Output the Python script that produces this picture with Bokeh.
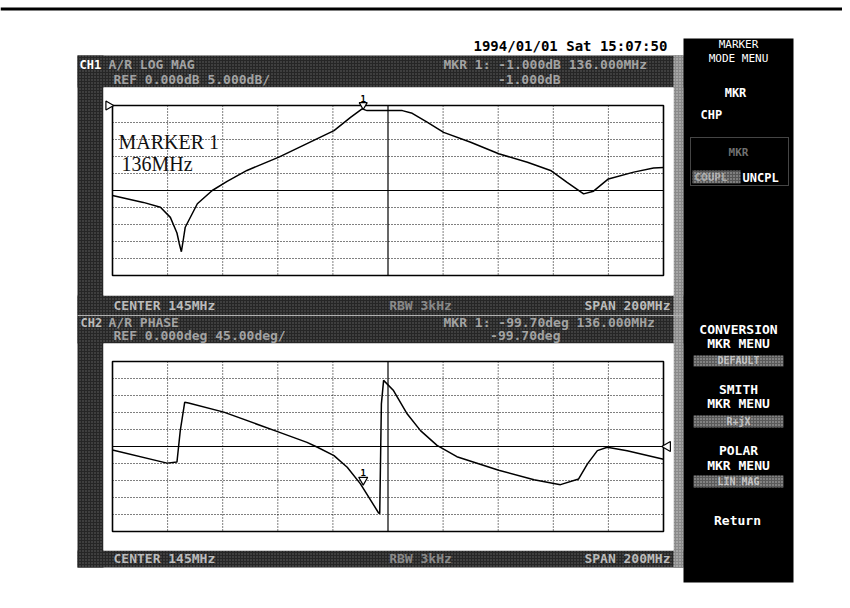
from bokeh.plotting import figure
from bokeh.models import Range1d
from bokeh.embed import file_html
from bokeh.resources import INLINE
from bokeh.core.properties import value

# ---------------- data ----------------
freq_ticks = [45, 65, 85, 105, 125, 145, 165, 185, 205, 225, 245]          # MHz, 20 MHz/div
ch1_ticks = [0, -5, -10, -15, -20, -25, -30, -35, -40, -45, -50]           # dB, 5 dB/div
ch2_ticks = [225, 180, 135, 90, 45, 0, -45, -90, -135, -180, -225]        # deg, 45 deg/div

ch1_freq = [45.0, 56.2, 62.4, 66.0, 68.4, 69.2, 70.0, 70.6, 71.4, 75.8, 81.2, 86.6,
            93.8, 105.4, 125.4, 131.4, 135.6, 137.4, 150.2, 153.8, 159.2, 165.2, 175.0,
            185.2, 195.6, 204.0, 210.0, 216.0, 219.6, 225.0, 234.2, 241.4, 245.0]
ch1_mag = [-26.5, -28.5, -29.9, -32.9, -37.5, -40.5, -43.0, -40.0, -35.8, -28.9, -25.0, -22.3,
           -19.1, -15.2, -7.4, -3.5, -1.0, -1.5, -1.5, -2.3, -4.9, -7.9, -10.8,
           -14.2, -16.7, -19.1, -22.6, -26.0, -25.2, -21.6, -19.6, -18.4, -18.2]

ch2_freq = [45.0, 64.8, 68.4, 69.6, 71.2, 72.6, 85.4, 105.4, 115.6, 119.4, 125.4, 130.2,
            135.0, 141.6, 142.0, 142.6, 143.4, 147.0, 152.0, 156.8, 162.8, 170.0, 185.2,
            198.0, 207.6, 214.2, 217.4, 221.0, 224.6, 231.8, 245.0]
ch2_phase = [-9, -44, -41, 42, 117, 115, 91, 38, 11, -2, -24, -55,
             -99, -176, -178, 113, 175, 148, 86, 42, 3, -27, -63,
             -88, -101, -86, -46, -11, -2, -11, -34]

marker_freq = 136.0
ch1_marker = -1.0
ch2_marker = -99.0

# ---------------- layout helpers ----------------
FX0, FX1, FY0, FY1 = 0, 842, 0, 600
BX0, BX1 = 112, 663
C1T, C1B = 105, 275
C2T, C2B = 361, 531


def xr(x0, x1, v0, v1):
    k = (v1 - v0) / (x1 - x0)
    return Range1d(start=v0 - (x0 - FX0) * k, end=v1 + (FX1 - x1) * k)


def yr(yt, yb, vt, vb):
    k = (vt - vb) / (yb - yt)
    return Range1d(start=vb - (FY1 - yb) * k, end=vt + (yt - FY0) * k)


p = figure(width=842, height=600, x_range=Range1d(FX0, FX1), y_range=Range1d(FY1, FY0),
           output_backend="svg", toolbar_location=None, min_border=0,
           x_axis_location=None, y_axis_location=None)
p.grid.visible = False
p.outline_line_color = None
p.background_fill_color = "white"
p.border_fill_color = "white"

p.extra_x_ranges = {"f": xr(BX0, BX1, freq_ticks[0], freq_ticks[-1])}
p.extra_y_ranges = {"mag": yr(C1T, C1B, ch1_ticks[0], ch1_ticks[-1]),
                    "ph": yr(C2T, C2B, ch2_ticks[0], ch2_ticks[-1])}

MONO = value("DejaVu Sans Mono")

# outer frame (top edge)
p.line([0, 842], [8.5, 8.5], line_color="black", line_width=3)

# ---------------- dark speckled bands ----------------
def band(l, r, t, b, fill="#262626", hatch="#c8c8c8", alpha=0.38):
    p.quad(left=[l], right=[r], top=[t], bottom=[b], fill_color=fill, line_color=None,
           hatch_pattern="dot", hatch_color=hatch, hatch_scale=3, hatch_weight=1,
           hatch_alpha=alpha)

band(77, 683, 55, 87)          # CH1 header
band(77, 683, 295, 343)        # CH1 footer + CH2 header
band(77, 683, 550, 567)        # CH2 footer
band(77, 103, 55, 567)         # left strip
band(673, 683, 55, 567, fill="#8a8a8a", hatch="#ffffff", alpha=0.6)  # right strip
p.line([77, 683], [315, 315], line_color="#b0b0b0", line_width=1)

# white plot area behind the boxes
p.quad(left=[103, 103], right=[673, 673], top=[87, 343], bottom=[295, 550],
       fill_color="white", line_color=None)

# right menu panel
p.quad(left=[683], right=[793], top=[38], bottom=[582], fill_color="black", line_color=None)

# ---------------- grids, boxes and traces ----------------
def screen(rng_name, tks, center):
    dotted_x = [f for f in freq_ticks[1:-1] if f != freq_ticks[5]]
    p.segment(x0=dotted_x, x1=dotted_x, y0=[tks[0]] * len(dotted_x), y1=[tks[-1]] * len(dotted_x),
              x_range_name="f", y_range_name=rng_name, line_color="black", line_width=1,
              line_dash="1 2")
    dotted_y = [v for v in tks[1:-1] if v != center]
    p.segment(x0=[freq_ticks[0]] * len(dotted_y), x1=[freq_ticks[-1]] * len(dotted_y),
              y0=dotted_y, y1=dotted_y, x_range_name="f", y_range_name=rng_name,
              line_color="black", line_width=1, line_dash="1 2")
    p.segment(x0=[freq_ticks[5], freq_ticks[0]], x1=[freq_ticks[5], freq_ticks[-1]],
              y0=[tks[0], center], y1=[tks[-1], center], x_range_name="f", y_range_name=rng_name,
              line_color="black", line_width=1.2)
    p.quad(left=[freq_ticks[0]], right=[freq_ticks[-1]], top=[tks[0]], bottom=[tks[-1]],
           x_range_name="f", y_range_name=rng_name, fill_color=None, line_color="black",
           line_width=1.6)

screen("mag", ch1_ticks, ch1_ticks[5])
screen("ph", ch2_ticks, ch2_ticks[5])

p.line(ch1_freq, ch1_mag, x_range_name="f", y_range_name="mag", line_color="black", line_width=1.5)
p.line(ch2_freq, ch2_phase, x_range_name="f", y_range_name="ph", line_color="black", line_width=1.5)

kx = 200.0 / (BX1 - BX0)
k1 = 50.0 / (C1B - C1T)
k2 = 450.0 / (C2B - C2T)

# reference position triangles
p.scatter([freq_ticks[0] - 4 * kx], [ch1_ticks[0]], x_range_name="f", y_range_name="mag",
          marker="triangle", angle=-1.5708, size=9, fill_color="white", line_color="black", line_width=1.2)
p.scatter([freq_ticks[-1] + 4 * kx], [ch2_ticks[5]], x_range_name="f", y_range_name="ph",
          marker="triangle", angle=1.5708, size=10, fill_color="white", line_color="black", line_width=1.2)

# markers
p.scatter([marker_freq], [ch1_marker + 4 * k1], x_range_name="f", y_range_name="mag",
          marker="inverted_triangle", size=8, fill_color="white", line_color="black", line_width=1.2)
p.text([marker_freq], [ch1_marker + 7 * k1], text=["1"], x_range_name="f", y_range_name="mag",
       text_font=MONO, text_font_style="bold", text_font_size="9px", text_align="center",
       text_baseline="bottom", text_color="black")
p.scatter([marker_freq], [ch2_marker + 4 * k2], x_range_name="f", y_range_name="ph",
          marker="inverted_triangle", size=9, fill_color="white", line_color="black", line_width=1.2)
p.text([marker_freq], [ch2_marker + 8 * k2], text=["1"], x_range_name="f", y_range_name="ph",
       text_font=MONO, text_font_style="bold", text_font_size="9px", text_align="center",
       text_baseline="bottom", text_color="black")

# annotation
p.text([118, 121], [141, 163], text=["MARKER 1", "136MHz"], text_font=value("Liberation Serif"),
       text_font_size="20px", text_color="#111111", text_baseline="alphabetic")

# ---------------- band texts ----------------
def t(x, y, s, align="left", color="#e0e0e0", size="13px", style="bold", alpha=1.0, font=MONO):
    p.text([x], [y], text=[s], text_font=font, text_font_size=size, text_font_style=style,
           text_align=align, text_baseline="middle", text_color=color, text_alpha=alpha)

SPK = "#d6d6d6"
t(473, 45, "1994/01/01 Sat 15:07:50", color="black", size="14px")

t(79, 64, "CH1", color="white", size="12px")
t(108, 64, "A/R       LOG MAG", color=SPK, alpha=0.7)
t(670, 64, "MKR 1:  -1.000dB   136.000MHz", align="right", color=SPK, alpha=0.7)
t(113, 79, "REF  0.000dB      5.000dB/", color=SPK, alpha=0.7)
t(560, 79, "-1.000dB", align="right", color=SPK, alpha=0.7)

t(113, 305, "CENTER 145MHz", color=SPK, alpha=0.85)
t(420, 305, "RBW 3kHz", align="center", color=SPK, alpha=0.55)
t(670, 305, "SPAN 200MHz", align="right", color=SPK, alpha=0.85)

t(80, 322, "CH2", color=SPK, size="12px", alpha=0.85)
t(108, 322, "A/R          PHASE", color=SPK, alpha=0.7)
t(670, 322, "MKR 1:  -99.70deg  136.000MHz", align="right", color=SPK, alpha=0.7)
t(113, 335, "REF  0.000deg    45.00deg/", color=SPK, alpha=0.7)
t(560, 335, "-99.70deg", align="right", color=SPK, alpha=0.7)

t(113, 558, "CENTER 145MHz", color=SPK, alpha=0.85)
t(420, 558, "RBW 3kHz", align="center", color=SPK, alpha=0.55)
t(670, 558, "SPAN 200MHz", align="right", color=SPK, alpha=0.85)

# ---------------- menu panel ----------------
t(738, 44, "MARKER", align="center", color="white", size="11px", style="normal")
t(738, 58, "MODE MENU", align="center", color="white", size="11px", style="normal")
t(735, 92, "MKR", align="center", color="white", size="12px")
t(700, 114, "CHP", color="white", size="12px")
p.quad(left=[690], right=[788], top=[137], bottom=[185], fill_color=None, line_color="#8a8a8a",
       line_width=1, line_dash="1 1")
band(692, 740, 170, 183, fill="#555555", hatch="#ffffff", alpha=0.6)
t(738, 152, "MKR", align="center", color="#bdbdbd", size="11px", alpha=0.6)
t(694, 177, "COUPL", color="#e0e0e0", size="11px", alpha=0.6)
t(742, 177, "UNCPL", color="white", size="12px")

t(738, 329, "CONVERSION", align="center", color="white", size="13px")
t(738, 343, "MKR MENU", align="center", color="white", size="13px")
band(693, 783, 355, 366, fill="#5a5a5a", hatch="#ffffff", alpha=0.6)
t(738, 360, "DEFAULT", align="center", color="#e8e8e8", size="10px", alpha=0.7)

t(738, 389, "SMITH", align="center", color="white", size="13px")
t(738, 403, "MKR MENU", align="center", color="white", size="13px")
band(693, 783, 415, 427, fill="#5a5a5a", hatch="#ffffff", alpha=0.6)
t(738, 421, "R+jX", align="center", color="#e8e8e8", size="10px", alpha=0.7)

t(738, 450, "POLAR", align="center", color="white", size="13px")
t(738, 465, "MKR MENU", align="center", color="white", size="13px")
band(693, 783, 475, 487, fill="#5a5a5a", hatch="#ffffff", alpha=0.6)
t(738, 481, "LIN MAG", align="center", color="#e8e8e8", size="10px", alpha=0.7)

t(737, 520, "Return", align="center", color="white", size="13px")

open("out.html", "w").write(file_html(p, INLINE))
